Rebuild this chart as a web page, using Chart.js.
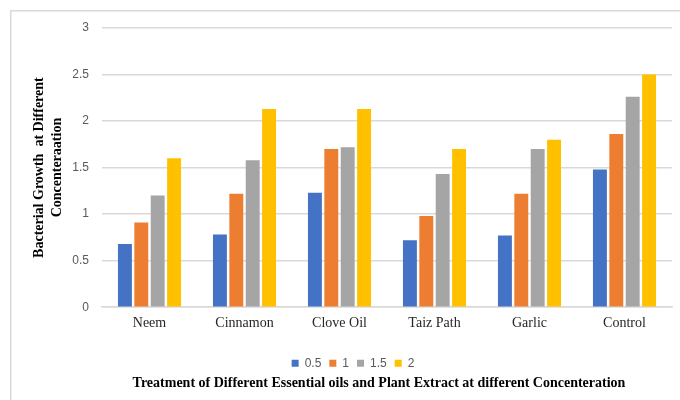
<!DOCTYPE html>
<html>
<head>
<meta charset="utf-8">
<style>
  html, body { margin: 0; padding: 0; background: #ffffff; }
  #wrap { width: 680px; height: 400px; }
</style>
<script src="https://cdn.jsdelivr.net/npm/chart.js@4/dist/chart.umd.min.js"></script>
</head>
<body>
<div id="wrap"><canvas id="chart" width="680" height="400"></canvas></div>
<script>
// Treatments on the category axis
const treatments = ['Neem', 'Cinnamon', 'Clove Oil', 'Taiz Path', 'Garlic', 'Control'];

// Bacterial growth per concentration
const conc05 = [0.68, 0.78, 1.23, 0.72, 0.77, 1.48];
const conc1  = [0.91, 1.22, 1.70, 0.98, 1.22, 1.86];
const conc15 = [1.20, 1.58, 1.72, 1.43, 1.70, 2.26];
const conc2  = [1.60, 2.13, 2.13, 1.70, 1.80, 2.50];

const seriesLabels = ['0.5', '1', '1.5', '2'];
const seriesColors = ['#4472C4', '#ED7D31', '#A5A5A5', '#FFC000'];

const yTitleLines = ['Bacterial Growth  at Different', 'Concenteraation'];
const xTitleText = 'Treatment of Different Essential oils and Plant Extract at different Concenteration';

const serif = "'Liberation Serif', 'Times New Roman', serif";
const sans = "'Liberation Sans', Arial, sans-serif";

// Light frame around the chart
const framePlugin = {
  id: 'frame',
  beforeDraw(chart) {
    const ctx = chart.ctx;
    ctx.save();
    ctx.strokeStyle = '#d9d9d9';
    ctx.lineWidth = 1.5;
    ctx.strokeRect(10.75, 10.75, 720, 420);
    ctx.restore();
  }
};

// Nudge the legend and the bottom title horizontally
const nudgePlugin = {
  id: 'nudge',
  afterLayout(chart) {
    if (chart.legend) { chart.legend.left += 12; chart.legend.right += 12; }
    if (chart.titleBlock) { chart.titleBlock.left += 38; chart.titleBlock.right += 38; }
  }
};

const datasets = [conc05, conc1, conc15, conc2].map((vals, i) => ({
  label: seriesLabels[i],
  data: vals,
  backgroundColor: seriesColors[i],
  borderWidth: 0,
  categoryPercentage: 0.69,
  barPercentage: 0.85
}));

new Chart(document.getElementById('chart'), {
  type: 'bar',
  data: { labels: treatments, datasets },
  plugins: [framePlugin, nudgePlugin],
  options: {
    responsive: false,
    animation: false,
    devicePixelRatio: 1,
    layout: { padding: { left: 10, right: 8, top: 28, bottom: 0 } },
    scales: {
      x: {
        grid: { display: false, drawTicks: false },
        border: { display: true, color: '#d9d9d9', width: 1.5 },
        ticks: {
          padding: 8,
          color: '#262626',
          font: { family: serif, size: 14 }
        },
        afterFit(scale) { scale.height = 42; }
      },
      y: {
        min: 0,
        max: 3,
        ticks: {
          stepSize: 0.5,
          padding: 13,
          color: '#595959',
          font: { family: sans, size: 12 },
          callback: v => String(v)
        },
        grid: { color: '#d9d9d9', lineWidth: 1.5, drawTicks: false },
        border: { display: false },
        title: {
          display: true,
          text: yTitleLines,
          color: '#000000',
          font: { family: serif, size: 14, weight: 'bold', lineHeight: 1.3 },
          padding: { top: 20, bottom: 0 }
        },
        afterFit(scale) { scale.width = 92; }
      }
    },
    plugins: {
      legend: {
        position: 'bottom',
        maxHeight: 24,
        labels: {
          boxWidth: 7,
          boxHeight: 7,
          padding: 8,
          color: '#595959',
          font: { family: sans, size: 12 }
        }
      },
      title: {
        display: true,
        position: 'bottom',
        text: xTitleText,
        color: '#000000',
        font: { family: serif, size: 14, weight: 'bold', lineHeight: 1.2 },
        padding: { top: 2, bottom: 8 }
      },
      tooltip: { enabled: false }
    }
  }
});
</script>
</body>
</html>
